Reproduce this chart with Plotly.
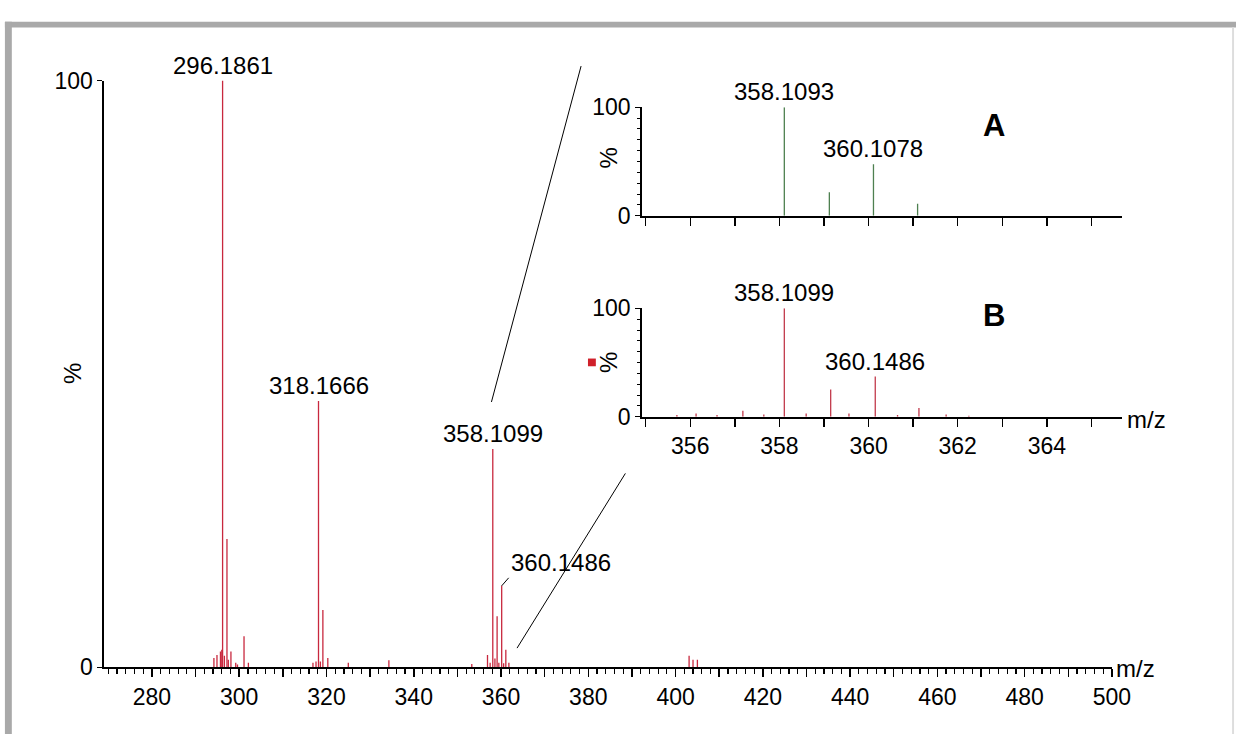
import plotly.graph_objects as go

W, H = 1255, 747

# ---------------- data ----------------
main_mz = [294.2, 294.9, 295.7, 296.0, 296.19, 296.6, 297.19, 297.5, 298.1, 299.2, 299.6,
           301.1, 302.1, 316.9, 317.6, 318.17, 318.6, 319.17, 320.3, 325.0, 334.3, 353.3,
           356.9, 357.5, 358.11, 358.6, 359.1, 359.5, 360.15, 360.6, 361.1, 361.8,
           403.1, 404.0, 405.0]
main_int = [1.6, 2.1, 2.7, 3.0, 100, 2.0, 21.9, 1.3, 2.7, 0.8, 0.5,
            5.3, 0.8, 0.8, 1.0, 45.4, 1.0, 9.8, 1.6, 0.8, 1.2, 0.6,
            2.1, 0.8, 37.2, 1.5, 8.7, 0.8, 13.9, 0.7, 3.0, 0.8,
            2.0, 1.3, 1.3]
main_label_mz = [296.19, 318.17, 358.11]
main_label_int = [100, 45.4, 37.2]
main_label_txt = ["296.1861", "318.1666", "358.1099"]

a_mz = [358.11, 359.12, 360.11, 361.10]
a_int = [100, 21.7, 47.5, 11.0]
a_label_mz = [358.11, 360.11]
a_label_int = [100, 47.5]
a_label_txt = ["358.1093", "360.1078"]

b_mz = [355.70, 356.13, 356.60, 357.18, 357.65, 358.11, 358.60, 359.15, 359.56,
        360.15, 360.65, 361.13, 361.74, 362.25]
b_int = [1.5, 3.0, 1.5, 5.6, 2.0, 100, 3.0, 25.2, 3.0,
         37.1, 1.5, 8.0, 2.0, 1.0]
b_label_mz = [358.11, 360.15]
b_label_int = [100, 37.1]
b_label_txt = ["358.1099", "360.1486"]

main_ticks = list(range(280, 501, 10))
main_ticktext = [str(v) if v % 20 == 0 else "" for v in main_ticks]
inset_ticks = list(range(355, 366))
inset_ticktext = [str(v) if v % 2 == 0 else "" for v in inset_ticks]

FONT = "Arial, Liberation Sans, sans-serif"
RED = "#c8283e"
RED_B = "#c23a4c"
GREEN = "#4e8050"
LABEL_SIZE = 24
TICK_SIZE = 23


def px(x):
    return x / W


def py(y):
    return 1 - y / H


def sticks(mz, inten):
    xs, ys = [], []
    for m, i in zip(mz, inten):
        xs += [m, m, None]
        ys += [0, i, None]
    return xs, ys


fig = go.Figure()
x, y = sticks(main_mz, main_int)
fig.add_trace(go.Scatter(x=x, y=y, mode="lines", line=dict(color=RED, width=1.3),
                         xaxis="x", yaxis="y", hoverinfo="skip"))
x, y = sticks(a_mz, a_int)
fig.add_trace(go.Scatter(x=x, y=y, mode="lines", line=dict(color=GREEN, width=1.3),
                         xaxis="x2", yaxis="y2", hoverinfo="skip"))
x, y = sticks(b_mz, b_int)
fig.add_trace(go.Scatter(x=x, y=y, mode="lines", line=dict(color=RED_B, width=1.3),
                         xaxis="x3", yaxis="y3", hoverinfo="skip"))

axis_common = dict(showline=True, linecolor="black", linewidth=2, ticks="outside",
                   tickcolor="black", tickwidth=1.5, showgrid=False, zeroline=False,
                   fixedrange=True, tickfont=dict(family=FONT, size=TICK_SIZE, color="black"))

inset_xdom = [px(652), px(1139)]

fig.update_layout(
    width=W, height=H, margin=dict(l=0, r=0, t=0, b=0),
    paper_bgcolor="white", plot_bgcolor="rgba(0,0,0,0)", showlegend=False,
    font=dict(family=FONT, size=LABEL_SIZE, color="black"),
    xaxis=dict(domain=[px(106), px(1129)], range=[269.1, 500], anchor="y",
               tickmode="array", tickvals=main_ticks, ticktext=main_ticktext, ticklen=8,
               minor=dict(tickmode="linear", tick0=270, dtick=2, ticklen=5, ticks="outside",
                          tickcolor="black", tickwidth=1.2),
               **axis_common),
    yaxis=dict(domain=[py(678), py(70)], range=[0, 100], anchor="x",
               tickmode="array", tickvals=[0, 100], ticklen=5, **axis_common),
    xaxis2=dict(domain=inset_xdom, range=[354.92, 365.68], anchor="y2",
                tickmode="array", tickvals=inset_ticks, showticklabels=False, ticklen=8,
                **axis_common),
    yaxis2=dict(domain=[py(210), py(97.7)], range=[0, 100], anchor="x2",
                tickmode="array", tickvals=[0, 100], ticklen=5,
                minor=dict(tickmode="linear", tick0=0, dtick=10, ticklen=3, ticks="outside",
                           tickcolor="black", tickwidth=1),
                **axis_common),
    xaxis3=dict(domain=inset_xdom, range=[354.92, 365.68], anchor="y3",
                tickmode="array", tickvals=inset_ticks, ticktext=inset_ticktext, ticklen=8,
                **axis_common),
    yaxis3=dict(domain=[py(418.3), py(306)], range=[0, 100], anchor="x3",
                tickmode="array", tickvals=[0, 100], ticklen=5,
                minor=dict(tickmode="linear", tick0=0, dtick=10, ticklen=3, ticks="outside",
                           tickcolor="black", tickwidth=1),
                **axis_common),
)

ann = []
for m, i, t in zip(main_label_mz, main_label_int, main_label_txt):
    ann.append(dict(x=m, y=i, xref="x", yref="y", text=t, showarrow=False,
                    xanchor="center", yanchor="bottom", yshift=0, font=dict(size=LABEL_SIZE)))
ann.append(dict(x=360.15, y=13.9, xref="x", yref="y", text="360.1486", showarrow=True,
                arrowhead=0, arrowwidth=1, arrowcolor="black", ax=7, ay=-8,
                xanchor="left", yanchor="bottom", font=dict(size=LABEL_SIZE)))
for m, i, t in zip(a_label_mz, a_label_int, a_label_txt):
    ann.append(dict(x=m, y=i, xref="x2", yref="y2", text=t, showarrow=False,
                    xanchor="center", yanchor="bottom", yshift=0, font=dict(size=LABEL_SIZE)))
for m, i, t in zip(b_label_mz, b_label_int, b_label_txt):
    ann.append(dict(x=m, y=i, xref="x3", yref="y3", text=t, showarrow=False,
                    xanchor="center", yanchor="bottom", yshift=0, font=dict(size=LABEL_SIZE)))

C = dict(xanchor="center", yanchor="middle", showarrow=False, xref="paper", yref="paper")
ann += [
    dict(x=px(73), y=py(373), text="%", textangle=-90, font=dict(size=LABEL_SIZE), **C),
    dict(x=px(618), y=py(150), text="%", textangle=-90, font=dict(size=LABEL_SIZE), **C),
    dict(x=px(618), y=py(362), text="%", textangle=-90, font=dict(size=LABEL_SIZE), **C),
    dict(x=px(1131), y=py(679), xref="paper", yref="paper", text="m/z", xanchor="left",
         yanchor="middle", showarrow=False, font=dict(size=LABEL_SIZE)),
    dict(x=px(1142), y=py(421), xref="paper", yref="paper", text="m/z", xanchor="left",
         yanchor="middle", showarrow=False, font=dict(size=LABEL_SIZE)),
    dict(x=px(1009), y=py(117), text="<b>A</b>", font=dict(size=31), **C),
    dict(x=px(1009), y=py(313), text="<b>B</b>", font=dict(size=31), **C),
]
fig.update_layout(annotations=ann)

shapes = [
    # connector lines from main spectrum to the insets
    dict(type="line", xref="paper", yref="paper", x0=px(499), y0=py(403), x1=px(590),
         y1=py(55), line=dict(color="black", width=1)),
    dict(type="line", xref="paper", yref="paper", x0=px(525), y0=py(658), x1=px(635),
         y1=py(477), line=dict(color="black", width=1)),
    # small red marker next to inset B
    dict(type="rect", xref="paper", yref="paper", x0=px(597), y0=py(358), x1=px(605),
         y1=py(366), fillcolor="#d0202a", line=dict(width=0)),
    # grey frame
    dict(type="rect", xref="paper", yref="paper", x0=px(5), y0=py(9), x1=1, y1=py(15),
         fillcolor="#a9a9a9", line=dict(width=0), layer="below"),
    dict(type="rect", xref="paper", yref="paper", x0=px(5), y0=0, x1=px(12), y1=py(9),
         fillcolor="#a9a9a9", line=dict(width=0), layer="below"),
    dict(type="rect", xref="paper", yref="paper", x0=px(1251), y0=0, x1=px(1253), y1=py(15),
         fillcolor="#dddddd", line=dict(width=0), layer="below"),
]
fig.update_layout(shapes=shapes)

fig.write_html("out.html", config={"staticPlot": True},
               post_script="document.body.style.margin='0';document.body.style.overflow='hidden';")
